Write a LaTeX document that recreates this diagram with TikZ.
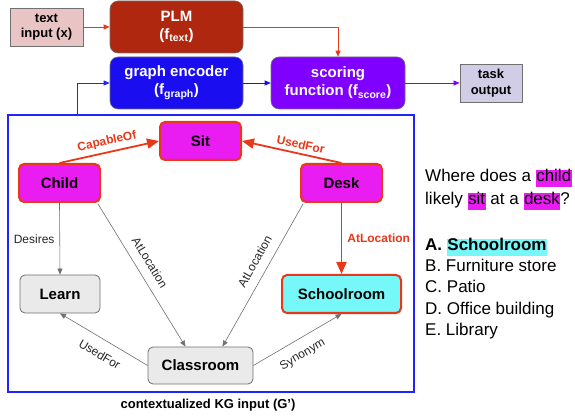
\documentclass[tikz,border=0pt]{standalone}
\usepackage{fontspec}
\setmainfont{Liberation Sans}
\usetikzlibrary{arrows.meta,calc}
\definecolor{plmred}{HTML}{B02710}
\definecolor{encblue}{HTML}{1A0DF0}
\definecolor{scpurple}{HTML}{8000FF}
\definecolor{inpink}{HTML}{E8C4C4}
\definecolor{outlav}{HTML}{D2CDE6}
\definecolor{kgmag}{HTML}{E91CF2}
\definecolor{kgred}{HTML}{E8381A}
\definecolor{kgcyan}{HTML}{76F8F8}
\definecolor{kggray}{HTML}{EAEAEA}
\definecolor{bordgray}{HTML}{707070}
\definecolor{rectblue}{HTML}{2222FF}
\newcommand{\hlbox}[2]{{\setlength{\fboxsep}{0pt}\colorbox{#1}{\rule[-0.28em]{0pt}{1em}\kern0.5pt #2\kern0.5pt}}}
\tikzset{
  topbox/.style={draw=bordgray, line width=0.6pt, rounded corners=8pt, text=white, align=center,
    minimum width=133pt, minimum height=52pt, inner sep=0pt, font=\fontsize{15}{18}\selectfont\bfseries},
  smallbox/.style={draw=bordgray, line width=0.8pt, align=center, inner sep=0pt,
    minimum height=38pt, font=\fontsize{13}{15.5}\selectfont\bfseries},
  kgnode/.style={rounded corners=5pt, minimum height=38pt, minimum width=81pt, inner sep=0pt,
    font=\fontsize{15}{18}\selectfont\bfseries},
  kghot/.style={kgnode, draw=kgred, line width=2pt},
  kgplain/.style={kgnode, draw=bordgray, line width=0.8pt, fill=kggray},
  thinarr/.style={line width=0.7pt, -{Triangle[length=6pt,width=5pt]}},
  redarr/.style={draw=kgred, line width=1.8pt, -{Triangle[length=12pt,width=10pt]}},
  grayarr/.style={draw=bordgray, line width=0.6pt, -{Triangle[length=6pt,width=5pt]}},
  elabr/.style={text=kgred, inner sep=1pt, font=\fontsize{12}{14}\selectfont\bfseries},
  elabg/.style={text=black!85, inner sep=1pt, font=\fontsize{12}{14}\selectfont},
  qtext/.style={anchor=base west, inner sep=0pt, font=\fontsize{17}{20}\selectfont}
}
\begin{document}
\begin{tikzpicture}[x=1pt,y=-1pt]
\useasboundingbox (0,0) rectangle (575,419);
% top pipeline
\node[smallbox, fill=inpink, minimum width=73pt] (textin) at (46.5,27) {text\\input (x)};
\node[topbox, fill=plmred] (plm) at (176.5,27) {PLM\\(f\textsubscript{text})};
\node[topbox, fill=encblue] (genc) at (176.5,83) {graph encoder\\(f\textsubscript{graph})};
\node[topbox, fill=scpurple, minimum width=134pt] (score) at (338,83) {scoring\\function (f\textsubscript{score})};
\node[smallbox, fill=outlav, minimum width=62pt] (taskout) at (491,83) {task\\output};
% KG frame
\draw[rectblue, line width=1.4pt] (8,115) rectangle (414,392);
\coordinate (kgtop) at (77,115);
\draw[thinarr, draw=kgred, color=kgred] (textin.east) -- (plm.west);
\draw[thinarr, draw=kgred, color=kgred] (plm.east) -| (score.north);
\draw[thinarr, color=encblue] (genc.east) -- (score.west);
\draw[thinarr, color=scpurple] (score.east) -- (taskout.west);
\draw[thinarr, color=rectblue] (kgtop) |- (genc.west);
% KG nodes
\node[kghot, fill=kgmag] (sit) at (200.5,141) {Sit};
\node[kghot, fill=kgmag] (child) at (59.5,183) {Child};
\node[kghot, fill=kgmag] (desk) at (341.5,183) {Desk};
\node[kgplain, minimum width=80pt] (learn) at (60,294) {Learn};
\node[kghot, fill=kgcyan, minimum width=119pt] (school) at (341.5,294) {Schoolroom};
\node[kgplain, minimum width=105pt, minimum height=37pt] (class) at (200.5,365.5) {Classroom};
% KG edges
\draw[redarr] (child.north) -- node[sloped, above=3pt, elabr] {CapableOf} (sit.west);
\draw[redarr] (desk.north) -- node[sloped, above=3pt, pos=0.43, elabr] {UsedFor} (sit.east);
\draw[redarr] (desk.south) -- node[right=4pt, elabr] {AtLocation} (school.north);
\draw[grayarr] (child.south) -- node[left=4pt, elabg] {Desires} (learn.north);
\coordinate (chse) at ($(child.south east)+(-3,1)$);
\coordinate (dksw) at ($(desk.south west)+(3,1)$);
\coordinate (clnl) at ($(class.north)+(-15,0)$);
\coordinate (clnr) at ($(class.north)+(22,0)$);
\draw[grayarr] (chse) -- node[sloped, above=8pt, pos=0.46, elabg] {AtLocation} (clnl);
\draw[grayarr] (dksw) -- node[sloped, above=8pt, pos=0.45, elabg] {AtLocation} (clnr);
\draw[grayarr] (class.west) -- node[sloped, below=9pt, pos=0.46, elabg] {UsedFor} (learn.south);
\draw[grayarr] (class.east) -- node[sloped, below=9pt, pos=0.47, elabg] {Synonym} (school.south);
\node[inner sep=0pt, font=\fontsize{13}{15}\selectfont\bfseries] (cap) at (208,405) {contextualized KG input (G’)};
% question text
\node[qtext] (q1) at (425,182) {Where does a \hlbox{kgmag}{child}};
\node[qtext] (q2) at (425,205) {likely \hlbox{kgmag}{sit} at a \hlbox{kgmag}{desk}?};
\node[qtext] (qa) at (425,251) {\textbf{A. \hlbox{kgcyan}{Schoolroom}}};
\node[qtext] (qb) at (425,272) {B. Furniture store};
\node[qtext] (qc) at (425,293) {C. Patio};
\node[qtext] (qd) at (425,314) {D. Office building};
\node[qtext] (qe) at (425,335) {E. Library};
\end{tikzpicture}
\end{document}
